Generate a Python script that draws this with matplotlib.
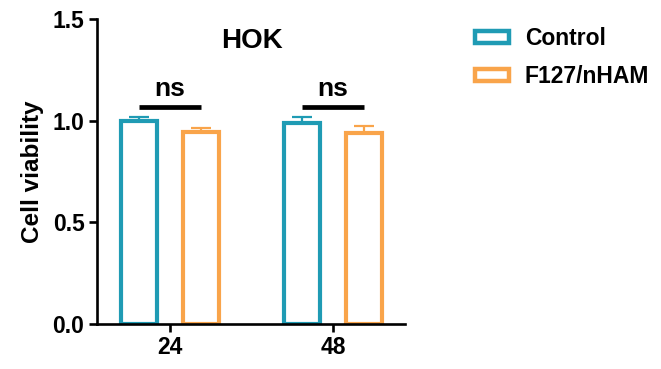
import numpy as np
import matplotlib.pyplot as plt
from matplotlib.patches import Patch

plt.rcParams['font.family'] = ['Liberation Sans', 'DejaVu Sans']
plt.rcParams['font.weight'] = 'bold'

# cell viability of HOK cells at 24 h and 48 h
hours = ['24', '48']
control = [1.0, 0.99]
control_err = [0.017, 0.03]
f127 = [0.946, 0.94]
f127_err = [0.017, 0.034]
sig_labels = ['ns', 'ns']

teal = '#1f9bb4'
orange = '#f9a44a'

fig = plt.figure(figsize=(6.61, 3.69), dpi=100)
ax = fig.add_axes([0.1467, 0.122, 0.466, 0.8265])

x = np.arange(len(hours))
off = 0.19
w = 0.225

for xs, vals, errs, col in [(x - off, control, control_err, teal),
                            (x + off, f127, f127_err, orange)]:
    ax.bar(xs, vals, width=w, facecolor='white', edgecolor=col, linewidth=3, zorder=2)
    ax.errorbar(xs, vals, yerr=[np.zeros(len(errs)), errs], fmt='none',
                ecolor=col, elinewidth=1.6, capsize=7, capthick=1.6, zorder=1)

# significance brackets over each pair
for i, lab in enumerate(sig_labels):
    y = 1.065
    ax.plot([x[i] - off, x[i] + off], [y, y], color='black', lw=3.4, solid_capstyle='butt')
    ax.text(x[i], y + 0.03, lab, ha='center', va='bottom', fontsize=19, fontweight='bold')

ax.text(0.5, 1.39, 'HOK', ha='center', va='center', fontsize=20, fontweight='bold')

ax.set_xlim(-0.448, 1.442)
ax.set_ylim(0, 1.5)
ax.set_yticks([0.0, 0.5, 1.0, 1.5])
ax.set_yticklabels(['0.0', '0.5', '1.0', '1.5'])
ax.set_xticks(x)
ax.set_xticklabels(hours)
ax.set_ylabel('Cell viability', fontsize=17.5, fontweight='bold', labelpad=6)

for s in ['top', 'right']:
    ax.spines[s].set_visible(False)
for s in ['left', 'bottom']:
    ax.spines[s].set_linewidth(1.9)
ax.tick_params(axis='both', width=1.9, length=6, labelsize=16.5, pad=3)
for lbl in ax.get_xticklabels() + ax.get_yticklabels():
    lbl.set_fontweight('bold')

handles = [Patch(facecolor='white', edgecolor=teal, linewidth=3.2, label='Control'),
           Patch(facecolor='white', edgecolor=orange, linewidth=3.2, label='F127/nHAM')]
fig.legend(handles=handles, loc='upper left', bbox_to_anchor=(0.688, 0.982), frameon=False,
           handlelength=1.45, handleheight=0.45, handletextpad=0.7,
           labelspacing=0.65, prop={'weight': 'bold', 'size': 16.5})

fig.savefig('out.png', dpi=100)
